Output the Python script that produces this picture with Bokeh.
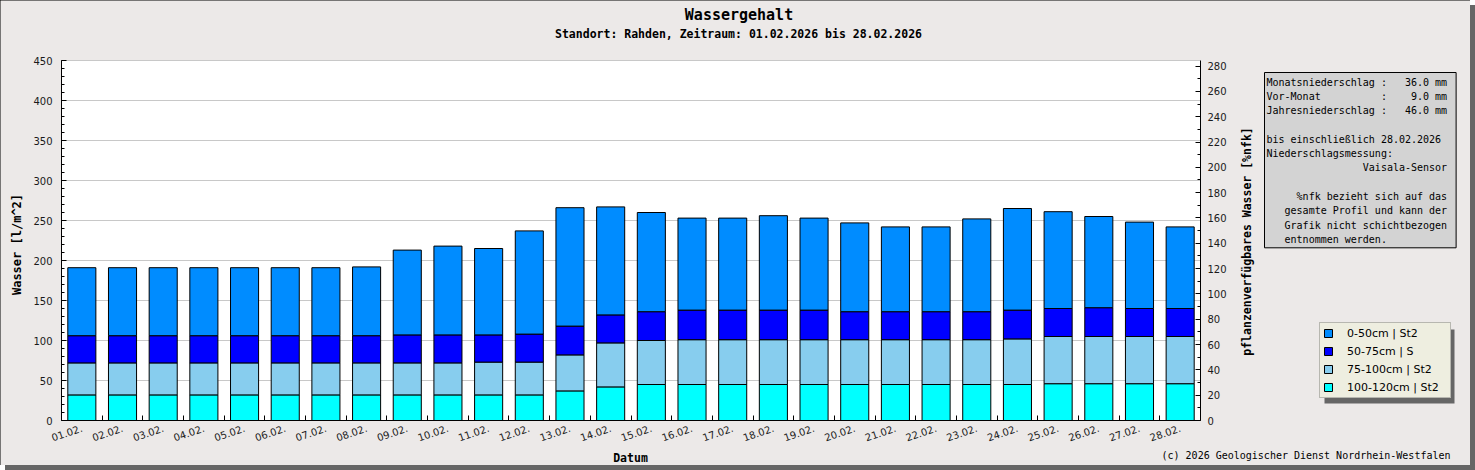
import math
from bokeh.plotting import figure
from bokeh.models import (ColumnDataSource, FixedTicker, SingleIntervalTicker, LinearAxis,
                          Range1d, Label, Legend, LegendItem, BoxAnnotation)
from bokeh.embed import file_html
from bokeh.resources import INLINE

# ---------------- data ----------------
dates = ["01.02.", "02.02.", "03.02.", "04.02.", "05.02.", "06.02.", "07.02.", "08.02.",
         "09.02.", "10.02.", "11.02.", "12.02.", "13.02.", "14.02.", "15.02.", "16.02.",
         "17.02.", "18.02.", "19.02.", "20.02.", "21.02.", "22.02.", "23.02.", "24.02.",
         "25.02.", "26.02.", "27.02.", "28.02."]

layer_0_50 = [85, 85, 85, 85, 85, 85, 85, 86, 106, 111, 108, 129, 148, 135,
              124, 115, 115, 118, 115, 111, 106, 106, 116, 127, 121, 114, 108, 102]
layer_50_75 = [34, 34, 34, 34, 34, 34, 34, 34, 35, 35, 34, 35, 36, 35,
               36, 37, 37, 37, 37, 35, 35, 35, 35, 36, 35, 36, 35, 35]
layer_75_100 = [40, 40, 40, 40, 40, 40, 40, 40, 40, 40, 41, 41, 45, 55,
                55, 56, 56, 56, 56, 56, 56, 56, 56, 57, 59, 59, 59, 59]
layer_100_120 = [32, 32, 32, 32, 32, 32, 32, 32, 32, 32, 32, 32, 37, 42,
                 45, 45, 45, 45, 45, 45, 45, 45, 45, 45, 46, 46, 46, 46]

legend_labels = ["0-50cm | St2", "50-75cm | S", "75-100cm | St2", "100-120cm | St2"]

y_max = 450          # Wasser [l/m^2]
nfk_max = 284.4      # right axis value at y_max
grid_step = 50

title_text = "Wassergehalt"
subtitle_text = "Standort: Rahden, Zeitraum: 01.02.2026 bis 28.02.2026"
ylabel_text = "Wasser [l/m^2]"
y2label_text = "pflanzenverfügbares Wasser [%nfk]"
xlabel_text = "Datum"
copyright_text = "(c) 2026 Geologischer Dienst Nordrhein-Westfalen"

info_lines = [
    "Monatsniederschlag :   36.0 mm",
    "Vor-Monat          :    9.0 mm",
    "Jahresniederschlag :   46.0 mm",
    "",
    "bis einschließlich 28.02.2026",
    "Niederschlagsmessung:",
    "                Vaisala-Sensor",
    "",
    "     %nfk bezieht sich auf das",
    "   gesamte Profil und kann der",
    "   Grafik nicht schichtbezogen",
    "   entnommen werden.",
]

# ---------------- layout (reference pixel positions) ----------------
OX, OY = 0, 0                 # where the figure lands on the page
RW, RH = 1470, 465            # outer box of the chart
W, H = RW - OX, RH - OY
PL, PR, PT, PB = 61, 1200, 60, 420   # plot area in page pixels

c0 = "#008cff"
c50 = "#0000ff"
c75 = "#87cdee"
c100 = "#00ffff"
BG = "#ece9e8"
MONO = "DejaVu Sans Mono"
SANS = "DejaVu Sans"

n = len(dates)
x = list(range(1, n + 1))
xs = (PR - PL) / n                       # pixels per category
ys = (PB - PT) / y_max                   # pixels per l/m^2
x_lo = 0.5 + (OX - PL) / xs
x_hi = 0.5 + (RW - PL) / xs
y_lo = (PB - RH) / ys
y_hi = (PB - OY) / ys
k = nfk_max / y_max


def sx(px):
    return px - OX


def sy(py):
    return RH - py


src = ColumnDataSource(dict(x=x, l0=layer_0_50, l50=layer_50_75,
                            l75=layer_75_100, l100=layer_100_120))

p = figure(width=W, height=H, x_range=Range1d(x_lo, x_hi), y_range=Range1d(y_lo, y_hi),
           output_backend="svg", toolbar_location=None, title=None,
           min_border=0, min_border_left=0, min_border_right=0,
           min_border_top=0, min_border_bottom=0,
           styles={"outline": "1px solid black", "outline-offset": "-1px",
                   "box-shadow": "5px 5px 0 #666666"})
p.border_fill_color = BG
p.background_fill_color = BG
p.outline_line_color = None
p.xgrid.visible = False
p.ygrid.visible = False

# plot area background and grid lines
p.quad(left=[x[0] - 0.5], right=[x[-1] + 0.5], bottom=[0], top=[y_max],
       fill_color="white", line_color=None)
gy = list(range(grid_step, y_max + 1, grid_step))
p.segment(x0=[x[0] - 0.5] * len(gy), x1=[x[-1] + 0.5] * len(gy), y0=gy, y1=gy,
          line_color="#c8c8c8", line_width=1)

rs = p.vbar_stack(["l100", "l75", "l50", "l0"], x="x", width=0.69,
                  color=[c100, c75, c50, c0], line_color="black", line_width=1, source=src)

# x axis
xa = p.xaxis[0]
xa.fixed_location = 0
xa.bounds = (x[0] - 0.5, x[-1] + 0.5)
xa.ticker = FixedTicker(ticks=x, minor_ticks=[i + 0.5 for i in x[:-1]])
xa.major_label_overrides = {i: d for i, d in zip(x, dates)}
xa.major_label_orientation = 0.33
xa.major_tick_line_color = None
xa.major_tick_in = 0
xa.major_tick_out = 0
xa.minor_tick_in = 5
xa.minor_tick_out = 0
xa.minor_tick_line_color = "black"
xa.axis_line_color = "black"
xa.major_label_standoff = 7
xa.major_label_text_font = SANS
xa.major_label_text_font_size = "10px"
xa.major_label_text_color = "#1a1a1a"

# left axis
ya = p.yaxis[0]
ya.fixed_location = x[0] - 0.5
ya.bounds = (0, y_max)
ya.ticker = SingleIntervalTicker(interval=50, num_minor_ticks=5)
ya.major_tick_in = 5
ya.major_tick_out = 0
ya.minor_tick_in = 3
ya.minor_tick_out = 0
ya.axis_line_color = "black"
ya.major_tick_line_color = "black"
ya.minor_tick_line_color = "black"
ya.major_label_standoff = 9
ya.major_label_text_font = SANS
ya.major_label_text_font_size = "10px"
ya.major_label_text_color = "#1a1a1a"

# right axis (%nfk)
p.extra_y_ranges = {"nfk": Range1d(y_lo * k, y_hi * k)}
ra = LinearAxis(y_range_name="nfk", ticker=SingleIntervalTicker(interval=20, num_minor_ticks=2),
                fixed_location=x[-1] + 0.5, bounds=(0, nfk_max))
ra.major_tick_in = 5
ra.major_tick_out = 0
ra.minor_tick_in = 3
ra.minor_tick_out = 0
ra.axis_line_color = "black"
ra.major_tick_line_color = "black"
ra.minor_tick_line_color = "black"
ra.major_label_standoff = 7
ra.major_label_text_font = SANS
ra.major_label_text_font_size = "10px"
ra.major_label_text_color = "#1a1a1a"
p.add_layout(ra, "right")


def lab(text, px, py, size, bold=True, align="center", baseline="middle", angle=0.0):
    p.add_layout(Label(text=text, x=sx(px), y=sy(py), x_units="screen", y_units="screen",
                       text_align=align, text_baseline=baseline, text_font=MONO,
                       text_font_style="bold" if bold else "normal",
                       text_font_size=size, text_color="black", angle=angle))


lab(title_text, 738.5, 14, "15px")
lab(subtitle_text, 738, 33, "11.5px")
lab(ylabel_text, 16, 244, "12px", angle=math.pi / 2)
lab(y2label_text, 1246, 241, "11.5px", angle=math.pi / 2)
lab(xlabel_text, 630, 457, "11.5px")
lab(copyright_text, 1450, 455, "10px", bold=False, align="right")

# info box with shadow
NB = "\u00a0"
info_text = "\n".join((ln if ln else " ").replace(" ", NB) for ln in info_lines)
pad = dict(left=2, right=9, top=4, bottom=3)
p.add_layout(Label(text=info_text, x=sx(1264) + 4, y=sy(72) - 4, x_units="screen", y_units="screen",
                   text_align="left", text_baseline="top", text_font=MONO,
                   text_font_size="10px", text_line_height=1.3, text_alpha=0,
                   background_fill_color="#8c8c8c", border_line_color=None, padding=pad))
p.add_layout(Label(text=info_text, x=sx(1264), y=sy(72), x_units="screen", y_units="screen",
                   text_align="left", text_baseline="top", text_font=MONO,
                   text_font_size="10px", text_line_height=1.3, text_color="black",
                   background_fill_color="#d3d3d3", border_line_color="black", padding=pad))

# legend with shadow
p.add_layout(BoxAnnotation(left=sx(1324), right=sx(1454), bottom=sy(403), top=sy(329),
                           left_units="screen", right_units="screen",
                           bottom_units="screen", top_units="screen",
                           fill_color="#666666", fill_alpha=1, line_color=None))
items = [LegendItem(label=legend_labels[0], renderers=[rs[3]]),
         LegendItem(label=legend_labels[1], renderers=[rs[2]]),
         LegendItem(label=legend_labels[2], renderers=[rs[1]]),
         LegendItem(label=legend_labels[3], renderers=[rs[0]])]
legend = Legend(items=items, location=(sx(1319), sy(398)), orientation="vertical",
                glyph_width=10, glyph_height=10, label_height=14, spacing=4,
                padding=3, margin=0, label_standoff=14, label_width=100,
                background_fill_color="#eeeee0", background_fill_alpha=1,
                border_line_color="#808080", label_text_font=SANS,
                label_text_font_size="11px", label_text_color="black")
p.add_layout(legend)

open("out.html", "w").write(file_html(p, INLINE))
